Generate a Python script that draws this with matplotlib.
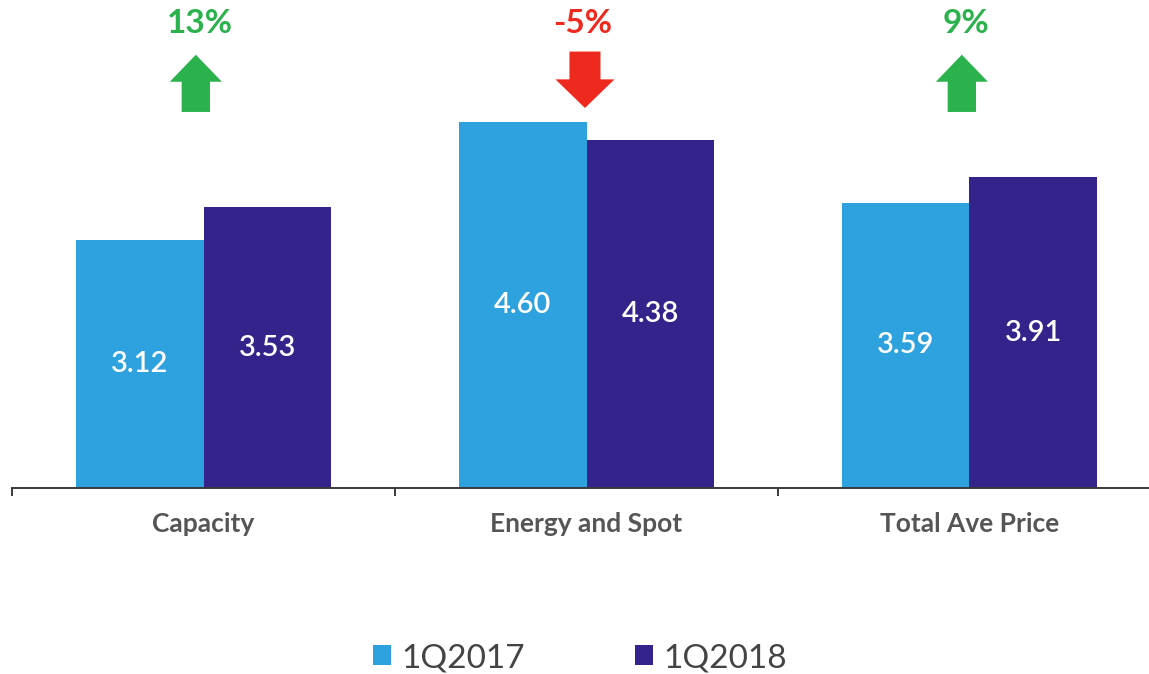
import numpy as np
import matplotlib.pyplot as plt
from matplotlib.patches import FancyArrow

categories = ['Capacity', 'Energy and Spot', 'Total Ave Price']
series_names = ['1Q2017', '1Q2018']
values_2017 = [3.12, 4.60, 3.59]
values_2018 = [3.53, 4.38, 3.91]
change_labels = ['13%', '-5%', '9%']

light = '#2EA2DE'
dark = '#34238A'
green = '#2BB24C'
red = '#EE2A1E'

plt.rcParams['font.family'] = ['Lato', 'DejaVu Sans']

fig = plt.figure(figsize=(11.49, 6.74), dpi=100)
ax = fig.add_axes([12 / 1149, 186 / 674, 1.0, 488 / 674])

x = np.arange(len(categories))
w = 0.334
b1 = ax.bar(x - w / 2, values_2017, w, color=light, label=series_names[0])
b2 = ax.bar(x + w / 2, values_2018, w, color=dark, label=series_names[1])

for bars, vals in [(b1, values_2017), (b2, values_2018)]:
    for rect, v in zip(bars, vals):
        ax.text(rect.get_x() + rect.get_width() / 2, v / 2, f'{v:.2f}',
                ha='center', va='center', color='white', fontsize=21,
                fontweight='semibold')

# change arrows above each group
for i, lab in enumerate(change_labels):
    up = not lab.startswith('-')
    col = green if up else red
    ax.text(i - 0.01, 5.84, lab, ha='center', va='center', color=col,
            fontsize=24, fontweight='bold')
    if up:
        arr = FancyArrow(i - 0.02, 4.73, 0, 0.72, width=0.074, head_width=0.136,
                         head_length=0.34, length_includes_head=True, color=col, lw=0)
    else:
        arr = FancyArrow(i - 0.004, 5.49, 0, -0.71, width=0.081, head_width=0.154,
                         head_length=0.36, length_includes_head=True, color=col, lw=0)
    ax.add_patch(arr)

ax.set_xlim(-0.5, 2.5)
ax.set_ylim(0, 488 / 79.5)
for s in ['top', 'right', 'left']:
    ax.spines[s].set_visible(False)
ax.spines['bottom'].set_color('#3a3a3a')
ax.spines['bottom'].set_linewidth(1.4)
ax.set_yticks([])
ax.set_xticks([-0.5, 0.5, 1.5, 2.5])
ax.set_xticklabels([])
ax.tick_params(axis='x', which='major', length=6, width=1.4, color='#3a3a3a', direction='out')
ax.set_xticks(x, minor=True)
ax.set_xticklabels(categories, minor=True, fontsize=19, fontweight='bold', color='#555555')
ax.tick_params(axis='x', which='minor', length=0, pad=17)

fig.legend(handles=[b1, b2], loc='center', bbox_to_anchor=(580 / 1149, 1 - 658 / 674),
           ncol=2, frameon=False, fontsize=24, handlelength=0.54, handleheight=0.54,
           handletextpad=0.3, columnspacing=3.3, labelcolor='#444444')

plt.savefig('out.png', dpi=100)
